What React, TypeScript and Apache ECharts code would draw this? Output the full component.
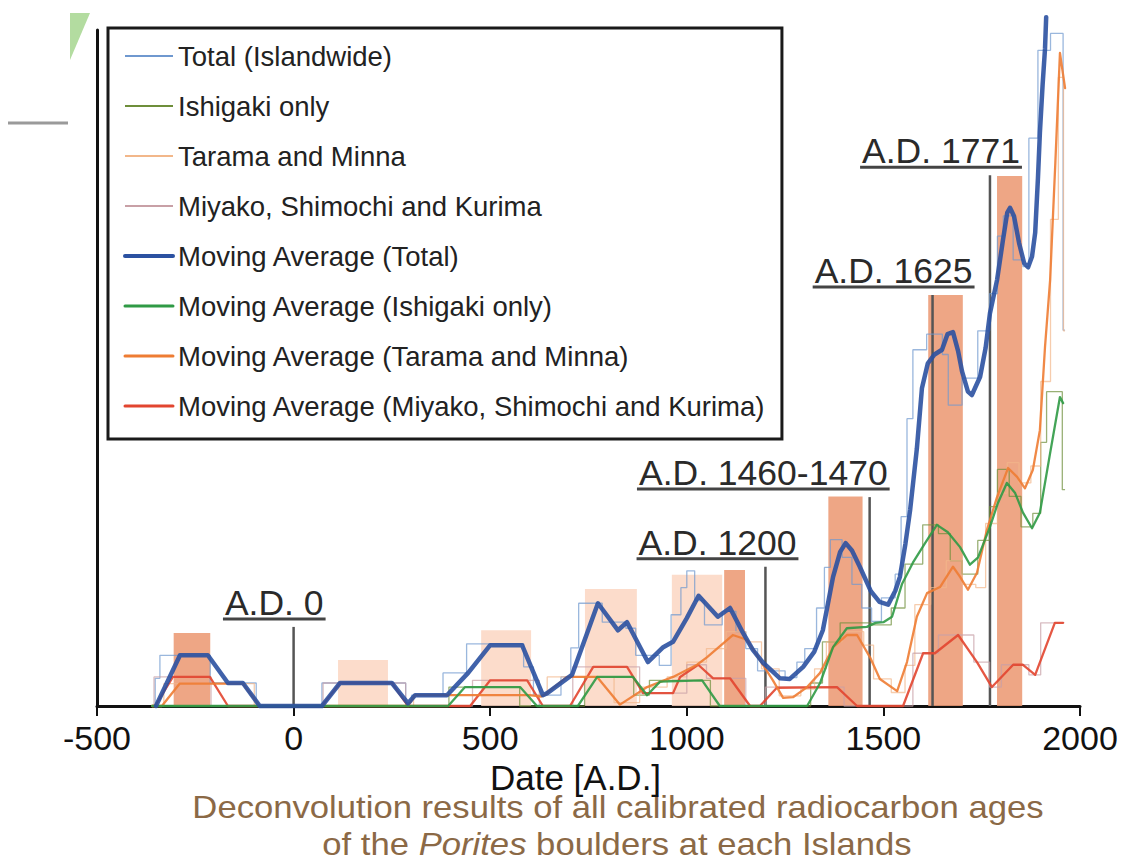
import React, { useEffect, useRef } from "react";
import * as echarts from "echarts";

const FONT = '"Liberation Sans", Arial, Helvetica, sans-serif';

// x axis ticks (years A.D.)
const xTicks = [-500, 0, 500, 1000, 1500, 2000];

// Raw (deconvolved) step curves, relative units (0..100 = axis height)
const totalRaw: [number, number][] = [
  [-360, 0], [-352, 4.1], [-340, 7.5], [-212, 3.4], [-130, 3.4], [-95, 0], [70, 0], [72, 3.4], [285, 0.5],
  [300, 1.6], [380, 4.9], [440, 9.2], [585, 5.8], [610, 1.6], [680, 4.3], [705, 8.6], [725, 15.2], [785, 12.4],
  [845, 11.5], [870, 7.5], [930, 6.0], [960, 13.5], [985, 17.5], [1000, 20.0], [1020, 15.6], [1045, 12.0],
  [1090, 14.0], [1125, 11.0], [1150, 8.5], [1180, 5.2], [1250, 4.2], [1280, 6.5], [1300, 8.5], [1330, 14.5],
  [1350, 20.5], [1365, 24.6], [1395, 22.0], [1420, 18.0], [1445, 14.5], [1470, 12.5], [1495, 16.0],
  [1530, 19.5], [1545, 28.0], [1560, 42.5], [1575, 52.7], [1610, 55.0], [1650, 52.0], [1665, 44.5],
  [1700, 48.5], [1740, 55.5], [1770, 61.0], [1790, 69.5], [1805, 72.5], [1830, 66.0], [1855, 65.0],
  [1870, 84.0], [1893, 97.0], [1925, 99.5], [1957, 55.6], [1962, 55.6],
];
const ishigakiRaw: [number, number][] = [
  [-360, 0], [380, 0], [395, 2.8], [575, 0], [725, 0], [740, 4.3], [865, 1.6], [905, 3.8], [1060, 0], [1300, 0],
  [1315, 3.4], [1345, 9.5], [1390, 12.3], [1470, 12.0], [1520, 14.5], [1555, 21.0], [1600, 26.8],
  [1640, 25.5], [1670, 21.5], [1700, 19.5], [1740, 24.5], [1770, 29.5], [1790, 35.0], [1820, 31.0],
  [1850, 26.5], [1880, 28.5], [1900, 39.0], [1915, 46.5], [1955, 32.0], [1962, 32.0],
];
const taramaRaw: [number, number][] = [
  [-360, 0], [-340, 0], [-330, 3.3], [-100, 0], [300, 0], [305, 1.6], [640, 1.6], [645, 4.3], [805, 4.3],
  [815, 0.5], [880, 2.8], [950, 4.3], [1000, 6.5], [1050, 8.5], [1100, 11.0], [1150, 9.5], [1190, 5.5],
  [1235, 1.5], [1290, 2.5], [1325, 5.5], [1355, 9.5], [1395, 11.0], [1450, 9.0], [1475, 4.0], [1520, 2.0],
  [1555, 6.0], [1580, 15.0], [1620, 17.5], [1660, 21.5], [1700, 18.0], [1735, 17.5], [1760, 27.0],
  [1790, 31.5], [1815, 36.0], [1845, 33.0], [1875, 35.5], [1900, 48.0], [1925, 72.0], [1945, 93.0],
  [1958, 55.5], [1962, 55.5],
];
const miyakoRaw: [number, number][] = [
  [-360, 0], [-355, 4.3], [-210, 0], [70, 0], [75, 3.4], [285, 0], [445, 0], [455, 3.8], [625, 0], [700, 0],
  [710, 5.8], [850, 5.8], [880, 1.9], [1000, 6.1], [1050, 4.1], [1150, 0], [1200, 2.8], [1400, 0], [1560, 0],
  [1575, 7.8], [1640, 10.5], [1700, 10.5], [1730, 6.5], [1770, 2.8], [1800, 6.1], [1870, 4.6], [1900, 12.3],
  [1960, 12.3],
];

// Moving averages
const maTotal: [number, number][] = [
  [-350, 0], [-289, 7.5], [-218, 7.5], [-167, 3.4], [-129, 3.4], [-86, 0], [72, 0], [118, 3.4], [250, 3.4],
  [291, 0.4], [309, 1.6], [390, 1.6], [444, 4.9], [500, 9.0], [581, 9.0], [634, 1.6], [645, 1.9], [708, 4.6],
  [774, 15.2], [825, 11.2], [848, 12.4], [901, 6.5], [940, 8.7], [965, 9.5], [1000, 13.0], [1030, 16.3],
  [1079, 13.2], [1110, 14.5], [1143, 10.8], [1168, 8.3], [1194, 6.4], [1237, 4.1], [1262, 4.0], [1296, 5.8],
  [1324, 8.0], [1346, 11.2], [1372, 19.1], [1390, 22.8], [1404, 24.1], [1420, 23.0], [1440, 20.6],
  [1468, 17.0], [1490, 15.4], [1512, 15.0], [1530, 17.0], [1542, 19.1], [1556, 24.0], [1568, 29.0],
  [1585, 38.0], [1598, 47.0], [1613, 50.7], [1630, 52.0], [1649, 52.7], [1663, 55.0], [1677, 55.3],
  [1690, 52.5], [1700, 49.5], [1715, 46.5], [1725, 46.0], [1746, 48.7], [1760, 53.0], [1771, 58.1],
  [1789, 63.0], [1804, 68.9], [1815, 73.0], [1822, 73.7], [1832, 72.5], [1845, 68.5], [1858, 65.5],
  [1868, 64.9], [1878, 66.5], [1886, 70.0], [1893, 78.0], [1898, 84.8], [1905, 92.0], [1911, 97.2],
  [1914, 101.9],
];
const maIshigaki: [number, number][] = [
  [-360, 0], [393, 0], [436, 2.8], [576, 2.8], [619, 0], [723, 0], [772, 4.3], [863, 4.3], [899, 1.6],
  [932, 3.6], [1039, 3.8], [1084, 0], [1306, 0], [1339, 3.4], [1372, 8.7], [1407, 11.5], [1458, 11.7],
  [1480, 12.3], [1500, 12.4], [1522, 13.2], [1547, 18.0], [1575, 21.2], [1606, 24.1], [1636, 26.8],
  [1664, 25.7], [1695, 23.5], [1720, 20.9], [1741, 22.0], [1771, 26.5], [1791, 30.0], [1814, 33.0],
  [1835, 31.5], [1855, 28.6], [1878, 26.3], [1898, 28.6], [1924, 37.4], [1949, 45.7], [1957, 44.8],
];
const maTarama: [number, number][] = [
  [-360, 0], [-335, 0], [-290, 3.3], [-129, 3.3], [-86, 0], [291, 0], [309, 1.6], [600, 1.6], [630, 1.4],
  [644, 1.9], [695, 4.3], [772, 4.3], [830, 0.2], [899, 2.8], [965, 4.3], [1026, 6.1], [1051, 7.2],
  [1117, 10.5], [1153, 9.8], [1186, 6.8], [1219, 3.8], [1245, 1.2], [1270, 1.3], [1306, 2.8], [1339, 4.9],
  [1372, 8.7], [1407, 10.5], [1433, 10.5], [1466, 7.2], [1491, 4.0], [1535, 2.2], [1560, 6.5], [1585, 13.2],
  [1611, 16.7], [1644, 17.6], [1677, 20.6], [1695, 19.1], [1715, 17.2], [1738, 19.7], [1763, 26.0],
  [1789, 30.9], [1817, 35.2], [1840, 33.9], [1860, 32.2], [1880, 34.9], [1898, 40.8], [1911, 53.1],
  [1924, 63.0], [1937, 80.0], [1949, 96.6], [1962, 91.4],
];
const maMiyako: [number, number][] = [
  [-360, 0], [-352, 0], [-307, 4.3], [-213, 4.3], [-167, 0], [72, 0], [118, 3.4], [250, 3.4], [291, 0],
  [449, 0], [500, 3.8], [594, 3.8], [634, 0], [703, 0], [762, 5.8], [848, 5.8], [889, 1.9], [965, 1.9],
  [983, 4.3], [1029, 6.1], [1067, 4.1], [1110, 4.1], [1161, 0], [1186, 0], [1229, 2.7], [1382, 2.8],
  [1433, 0], [1550, 0], [1601, 7.8], [1631, 7.8], [1690, 10.5], [1738, 6.5], [1776, 2.8], [1830, 6.1],
  [1855, 6.1], [1886, 4.6], [1936, 12.3], [1957, 12.3],
];

// Shaded periods: start year, end year, height, kind (1 = strong, 0 = weak)
const periodStart = [-305, 113, 477, 741, 962, 1095, 1360, 1614, 1789];
const periodEnd = [-212, 240, 604, 873, 1090, 1148, 1447, 1702, 1853];
const periodHeight = [10.8, 6.8, 11.2, 17.3, 19.4, 20.1, 31.0, 60.8, 78.4];
const periodKind = [1, 0, 0, 0, 0, 1, 1, 1, 1];

// Event markers
const eventYears = [0, 1200, 1465, 1625, 1771];
const eventTops = [11.7, 20.6, 30.9, 60.8, 78.5];
const eventLabels = ["A.D. 0", "A.D. 1200", "A.D. 1460-1470", "A.D. 1625", "A.D. 1771"];

const seriesNames = [
  "Total (Islandwide)",
  "Ishigaki only",
  "Tarama and Minna",
  "Miyako, Shimochi and Kurima",
  "Moving Average (Total)",
  "Moving Average (Ishigaki only)",
  "Moving Average (Tarama and Minna)",
  "Moving Average (Miyako, Shimochi and Kurima)",
];

// style config (not data)
const labelShift = [30, 31, 18, 40, 30];
const LABEL_SIZE = 35.5;
const CAPTION_SIZE = 31.5;
const CAPTION_STRETCH = 1.1;
const colors = ["#6f98cf", "#6e8e3a", "#f2b78a", "#c8a0a6", "#2b51a1", "#2f9a45", "#ee7c33", "#e2452f"];
const CAPTION = "#8b6946";

let measureCtx: CanvasRenderingContext2D | null = null;
function textWidth(t: string, size: number): number {
  if (!measureCtx) measureCtx = document.createElement("canvas").getContext("2d");
  if (!measureCtx) return t.length * size * 0.55;
  measureCtx.font = `${size}px "Liberation Sans", Arial, sans-serif`;
  return measureCtx.measureText(t).width;
}

export default function App() {
  const ref = useRef<HTMLDivElement>(null);
  useEffect(() => {
    if (!ref.current) return;
    const chart = echarts.init(ref.current, null, { renderer: "svg" });

    const thin = (name: string, data: [number, number][], color: string) => ({
      name,
      type: "line",
      data,
      step: "end",
      symbol: "none",
      clip: false,
      z: 3,
      itemStyle: { color },
      lineStyle: { color, width: 1.3, opacity: 0.7 },
    });
    const ma = (name: string, data: [number, number][], color: string, width: number, z: number) => ({
      name,
      type: "line",
      data,
      symbol: "none",
      clip: false,
      z,
      itemStyle: { color },
      lineStyle: { color, width, opacity: 0.9, join: "round", cap: "round" },
    });

    const option: any = {
      animation: false,
      grid: { left: 97, right: 47, top: 30, bottom: 157, containLabel: false },
      xAxis: {
        type: "value",
        min: xTicks[0],
        max: xTicks[xTicks.length - 1],
        interval: xTicks[1] - xTicks[0],
        name: "Date [A.D.]",
        nameLocation: "middle",
        nameGap: 42,
        nameTextStyle: {
          fontSize: 35,
          lineHeight: 35,
          color: "#111",
          fontFamily: FONT,
          padding: [0, 26, 0, 0],
        },
        axisLine: { show: true, onZero: false, lineStyle: { color: "#111", width: 3 } },
        axisTick: { show: true, inside: false, length: 10, lineStyle: { color: "#111", width: 2 } },
        axisLabel: {
          fontSize: 34,
          color: "#111",
          fontFamily: FONT,
          margin: 15,
          formatter: (v: number) => String(v),
        },
        splitLine: { show: false },
      },
      yAxis: {
        type: "value",
        min: 0,
        max: 100,
        axisLine: { show: true, onZero: false, lineStyle: { color: "#111", width: 3 } },
        axisTick: { show: false },
        axisLabel: { show: false },
        splitLine: { show: false },
      },
      legend: {
        orient: "vertical",
        left: 108,
        top: 28,
        padding: [14, 16, 19, 15],
        itemWidth: 48,
        itemHeight: 14,
        itemGap: 22,
        selectedMode: false,
        backgroundColor: "#fff",
        borderColor: "#1a1a1a",
        borderWidth: 3,
        textStyle: { fontSize: 27.5, lineHeight: 27.5, color: "#222", fontFamily: FONT },
        data: seriesNames.map((n, i) => ({
          name: n,
          itemStyle: { opacity: 0 },
          lineStyle: { width: i < 4 ? 2 : i === 4 ? 4 : 3, opacity: 1 },
        })),
      },
      series: [
        {
          type: "custom",
          name: "periods",
          z: 1,
          silent: true,
          clip: false,
          data: periodStart.map((s, i) => [s, periodEnd[i], periodHeight[i], periodKind[i]]),
          renderItem: (_p: any, api: any) => {
            const a = api.coord([api.value(0), 0]);
            const b = api.coord([api.value(1), api.value(2)]);
            const strong = api.value(3) === 1;
            return {
              type: "rect",
              shape: { x: a[0], y: b[1], width: b[0] - a[0], height: a[1] - b[1] },
              style: { fill: strong ? "#ec9a74" : "#fbd6c2", opacity: strong ? 0.88 : 0.85 },
            };
          },
        },
        {
          type: "custom",
          name: "events",
          z: 2,
          silent: true,
          clip: false,
          data: eventYears.map((y, i) => [y, eventTops[i], i]),
          renderItem: (_p: any, api: any) => {
            const i = api.value(2);
            const base = api.coord([api.value(0), 0]);
            const top = api.coord([api.value(0), api.value(1)]);
            const label = eventLabels[i];
            const w = textWidth(label, LABEL_SIZE);
            const right = top[0] + labelShift[i];
            const left = right - w;
            return {
              type: "group",
              children: [
                {
                  type: "line",
                  shape: { x1: top[0], y1: top[1], x2: base[0], y2: base[1] },
                  style: { stroke: "#555", lineWidth: 2.5 },
                },
                {
                  type: "text",
                  x: right,
                  y: top[1] - 24,
                  style: {
                    text: label,
                    fill: "#2a2a2a",
                    font: `${LABEL_SIZE}px ${FONT}`,
                    align: "right",
                    verticalAlign: "middle",
                  },
                },
                {
                  type: "line",
                  shape: { x1: left - 2, y1: top[1] - 8, x2: right + 2, y2: top[1] - 8 },
                  style: { stroke: "#444", lineWidth: 3 },
                },
              ],
            };
          },
        },
        thin(seriesNames[0], totalRaw, colors[0]),
        thin(seriesNames[1], ishigakiRaw, colors[1]),
        thin(seriesNames[2], taramaRaw, colors[2]),
        thin(seriesNames[3], miyakoRaw, colors[3]),
        ma(seriesNames[7], maMiyako, colors[7], 2.3, 4),
        ma(seriesNames[6], maTarama, colors[6], 2.3, 4),
        ma(seriesNames[5], maIshigaki, colors[5], 2.3, 4),
        ma(seriesNames[4], maTotal, colors[4], 4.5, 5),
      ],
      graphic: [
        { type: "polygon", shape: { points: [[70, 13], [90, 13], [70, 60]] }, style: { fill: "#b3dca0" }, silent: true },
        { type: "line", shape: { x1: 8, y1: 123, x2: 68, y2: 123 }, style: { stroke: "#9a9a9a", lineWidth: 3 }, silent: true },
        {
          type: "text",
          x: 618,
          y: 807.5,
          scaleX: CAPTION_STRETCH,
          silent: true,
          style: {
            text: "Deconvolution results of all calibrated radiocarbon ages",
            font: `${CAPTION_SIZE}px ${FONT}`,
            fill: CAPTION,
            align: "center",
            verticalAlign: "middle",
          },
        },
        {
          type: "text",
          x: 617,
          y: 844.5,
          scaleX: CAPTION_STRETCH,
          silent: true,
          style: {
            text: "{n|of the }{i|Porites}{n| boulders at each Islands}",
            align: "center",
            verticalAlign: "middle",
            fill: CAPTION,
            rich: {
              n: { fontSize: CAPTION_SIZE, fontFamily: FONT, fill: CAPTION },
              i: { fontSize: CAPTION_SIZE, fontFamily: FONT, fontStyle: "italic", fill: CAPTION },
            },
          },
        },
      ],
    };
    chart.setOption(option);
    return () => chart.dispose();
  }, []);
  return (
    <div
      ref={ref}
      style={{ position: "fixed", left: 0, top: 0, width: 1127, height: 863, background: "#fff" }}
    />
  );
}
